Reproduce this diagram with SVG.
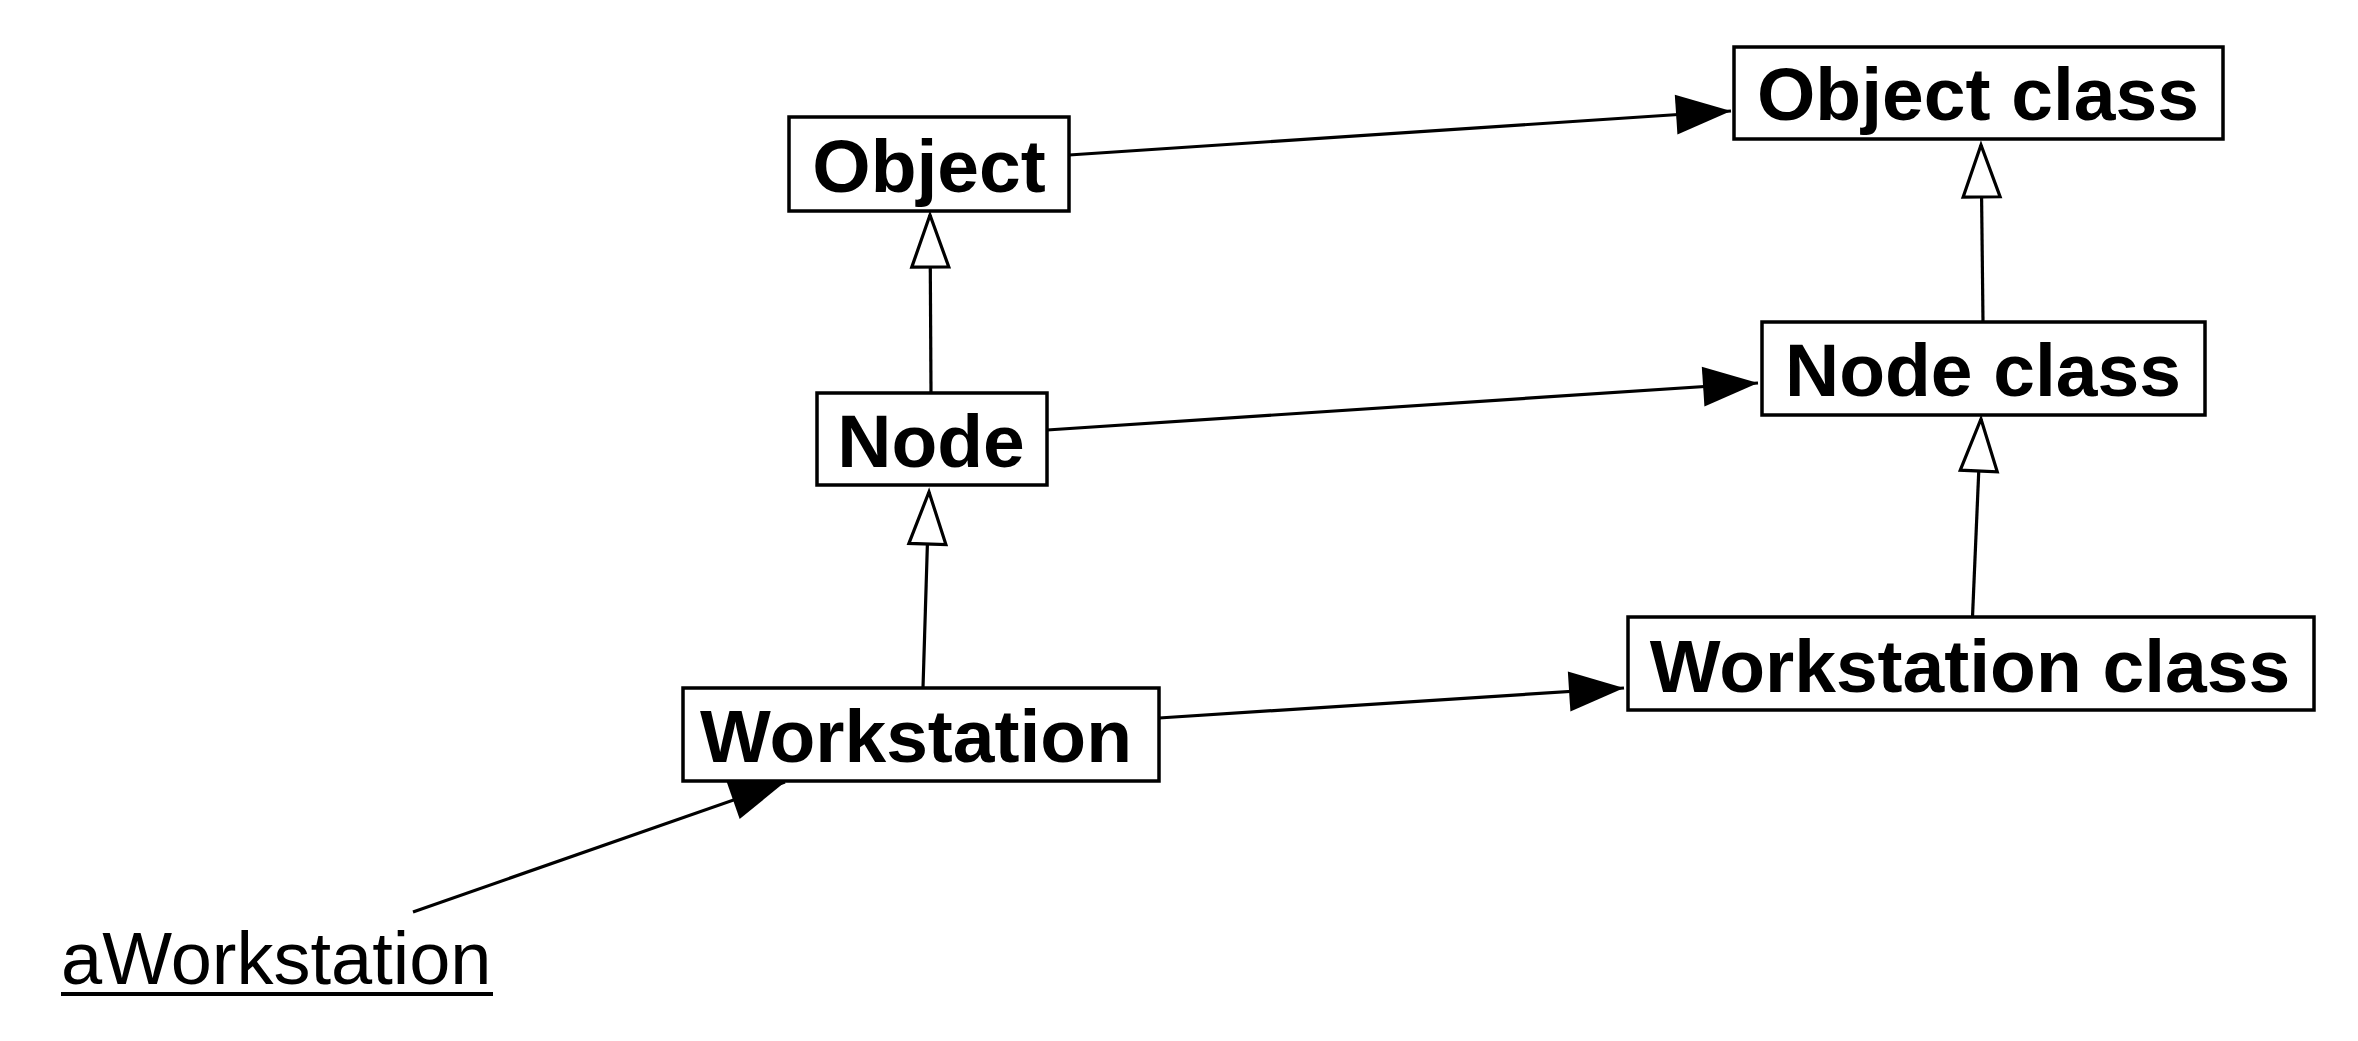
<svg xmlns="http://www.w3.org/2000/svg" width="2358" height="1041" viewBox="0 0 2358 1041">
<style>
.box{fill:#fff;stroke:#000;stroke-width:3.5}
.lbl{font-family:"Liberation Sans",Arial,Helvetica,sans-serif;font-weight:bold;font-size:75px;text-anchor:middle;fill:#000}
.obj{font-family:"Liberation Sans",Arial,Helvetica,sans-serif;font-size:74px;fill:#000}
.con{fill:none;stroke:#000;stroke-width:3.2}
.assoc{marker-end:url(#filled)}
.gen{marker-end:url(#hollow)}
</style>
<defs>
<marker id="filled" markerUnits="userSpaceOnUse" viewBox="0 0 56 40" refX="55" refY="20" markerWidth="56" markerHeight="40" orient="auto" overflow="visible">
<path d="M0,0 L55,20 L0,40 Z" fill="#000" stroke="none"/>
</marker>
<marker id="hollow" markerUnits="userSpaceOnUse" viewBox="0 0 54 40" refX="53" refY="19.5" markerWidth="54" markerHeight="40" orient="auto" overflow="visible">
<path d="M1,1 L53,19.5 L1,38 Z" fill="#fff" stroke="#000" stroke-width="3.2"/>
</marker>
</defs>
<rect width="2358" height="1041" fill="#fff"/>
<g id="connectors">
<line class="con assoc" x1="1069" y1="155" x2="1731" y2="111"/>
<line class="con assoc" x1="1047" y1="430" x2="1758" y2="383"/>
<line class="con assoc" x1="1159" y1="718" x2="1624" y2="688"/>
<line class="con assoc" x1="413" y1="912" x2="785" y2="782"/>
<line class="con gen" x1="931" y1="393" x2="930" y2="215"/>
<line class="con gen" x1="923" y1="688" x2="929" y2="492"/>
<line class="con gen" x1="1983" y1="322" x2="1981" y2="145"/>
<line class="con gen" x1="1972.5" y1="617" x2="1981" y2="419"/>
</g>
<g id="node-object">
<rect class="box" x="789" y="117" width="280" height="94"/>
<text class="lbl" x="929" y="192">Object</text>
</g>
<g id="node-object-class">
<rect class="box" x="1734" y="47" width="489" height="92"/>
<text class="lbl" x="1978" y="120">Object class</text>
</g>
<g id="node-node">
<rect class="box" x="817" y="393" width="230" height="92"/>
<text class="lbl" x="931" y="467">Node</text>
</g>
<g id="node-node-class">
<rect class="box" x="1762" y="322" width="443" height="93"/>
<text class="lbl" x="1983" y="396">Node class</text>
</g>
<g id="node-workstation">
<rect class="box" x="683" y="688" width="476" height="93"/>
<text class="lbl" x="916" y="762">Workstation</text>
</g>
<g id="node-workstation-class">
<rect class="box" x="1628" y="617" width="686" height="93"/>
<text class="lbl" x="1970" y="692">Workstation class</text>
</g>
<g id="node-aworkstation">
<text class="obj" x="61" y="984">aWorkstation</text>
<line x1="61" y1="994" x2="493" y2="994" stroke="#000" stroke-width="4"/>
</g>
</svg>
